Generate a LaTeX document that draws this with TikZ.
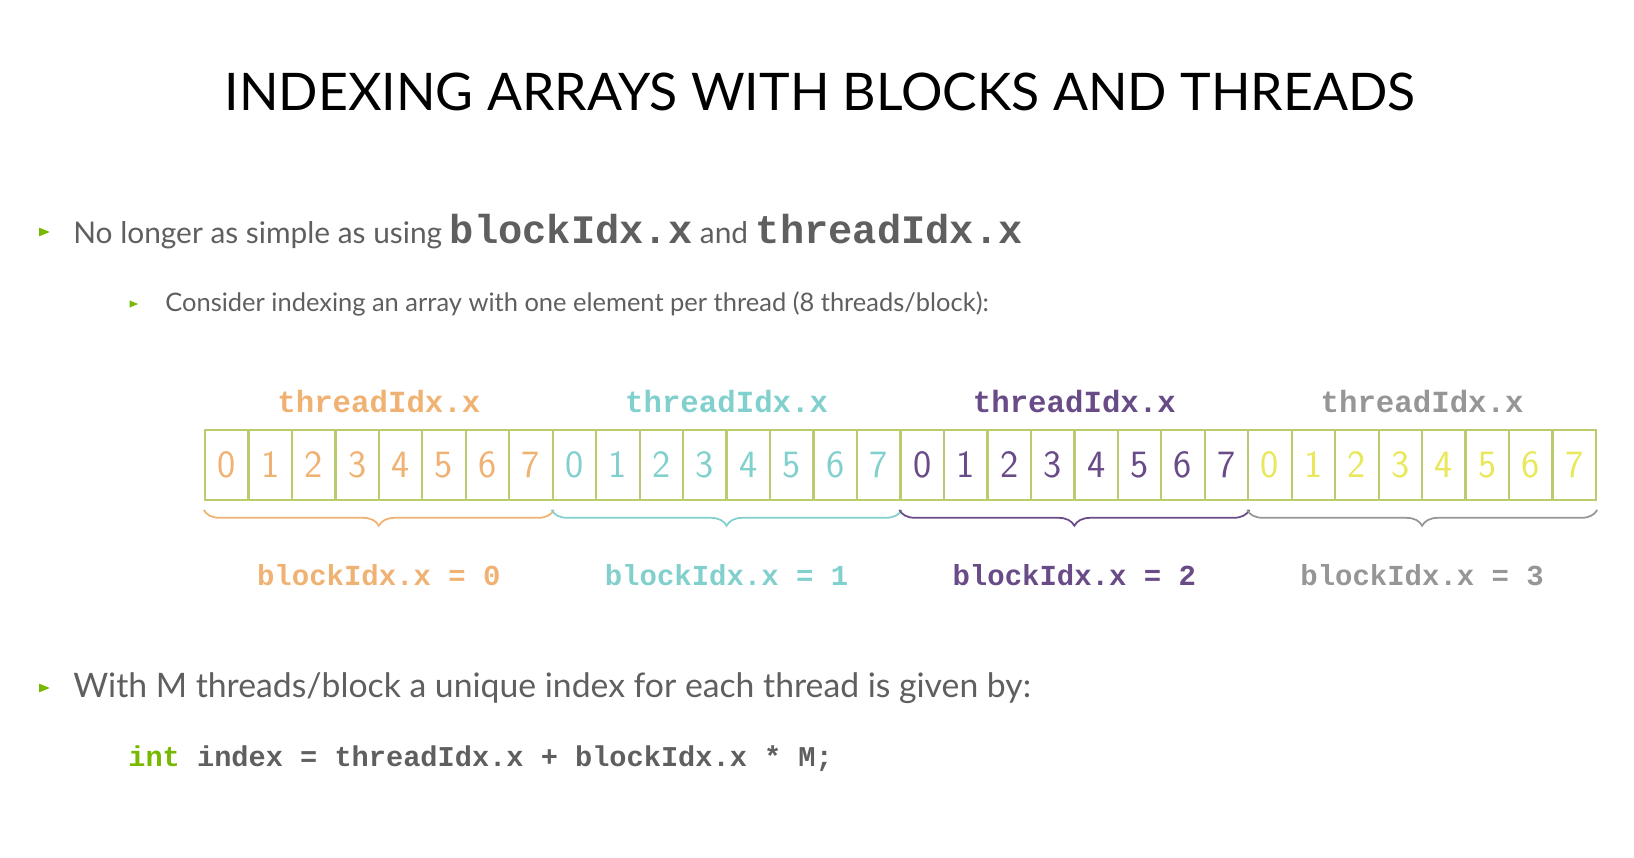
\documentclass[tikz,border=0pt]{standalone}
\usepackage{fontspec}
\setmainfont{Lato}
\setmonofont{Liberation Mono}
\usetikzlibrary{positioning,calc,shapes.geometric,decorations.pathreplacing}
\definecolor{nvgreen}{RGB}{118,185,0}
\definecolor{cellline}{RGB}{185,205,110}
\definecolor{txtgrey}{RGB}{95,95,95}
\definecolor{blkA}{RGB}{240,178,115}
\definecolor{blkB}{RGB}{130,208,205}
\definecolor{blkC}{RGB}{105,75,135}
\definecolor{blkD}{RGB}{150,150,150}
\definecolor{yelnum}{RGB}{232,232,90}
\begin{document}
\begin{tikzpicture}[x=0.02cm,y=-0.02cm,
	cell/.style={draw=cellline, line width=1.3pt, minimum width=43.47*0.02cm, minimum height=70*0.02cm, inner sep=0pt, font=\fontsize{22}{22}\selectfont\sffamily},
	lab/.style={font=\fontsize{17.5}{17.5}\selectfont\ttfamily\bfseries},
	bullet/.style={fill=nvgreen, isosceles triangle, inner sep=0pt, minimum width=5pt, minimum height=5pt},
	body/.style={anchor=west, text=txtgrey, inner sep=0pt}
	]
	\useasboundingbox (0,0) rectangle (1634,858);
	
	\node (title) at (820,92) {\fontsize{29.5}{29.5}\selectfont INDEXING ARRAYS WITH BLOCKS AND THREADS};
	
	\node (bulletA) [bullet] at (42,232) {};
	\node (textA) [body] at (73,232) {\fontsize{17}{17}\selectfont No longer as simple as using {\fontsize{23}{23}\selectfont\ttfamily\bfseries blockIdx.x} and {\fontsize{23}{23}\selectfont\ttfamily\bfseries threadIdx.x}};
	\node (bulletB) [bullet, minimum width=4pt, minimum height=4pt] at (132,304) {};
	\node (textB) [body] at (165,304) {\fontsize{14.5}{14.5}\selectfont Consider indexing an array with one element per thread (8 threads/block):};
	
	% the array, block by block
	\foreach \b/\col/\numcol in {0/blkA/blkA, 1/blkB/blkB, 2/blkC/blkC, 3/blkD/yelnum} {
		\foreach \i in {0,...,7} {
			\node (c\b\i) [cell, text=\numcol] at ({205+43.47*(8*\b+\i)+21.7},465) {\i};
		}
		\node (thr\b) [lab, text=\col] at ($(c\b3.north)!0.5!(c\b4.north)+(0,-27)$) {threadIdx.x};
		\draw [\col, line width=1pt, decorate, decoration={brace, mirror, amplitude=9pt}] ([yshift=-5pt]c\b0.south west) -- ([yshift=-5pt]c\b7.south east) coordinate[midway] (br\b);
		\node (blk\b) [lab, text=\col, font=\fontsize{16.5}{16.5}\selectfont\ttfamily\bfseries] at ($(c\b3.south)!0.5!(c\b4.south)+(0,74)$) {blockIdx.x = \b};
	}
	
	\node (bulletC) [bullet] at (42,688) {};
	\node (textC) [body] at (73,688) {\fontsize{19.2}{19.2}\selectfont With M threads/block a unique index for each thread is given by:};
	\node (code) [body, anchor=west] at (128,759) {\fontsize{16.3}{16.3}\selectfont\ttfamily\bfseries \textcolor{nvgreen}{int} index = threadIdx.x + blockIdx.x * M;};
	
\end{tikzpicture}
\end{document}
